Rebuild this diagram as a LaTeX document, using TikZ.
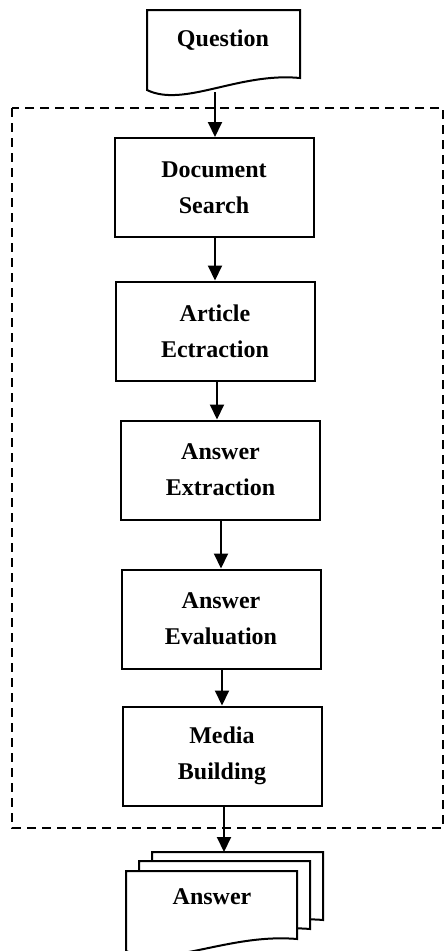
\documentclass[tikz,border=0pt]{standalone}
\usepackage{fontspec}
\setmainfont{Liberation Serif}
\usepackage{tikz}
\usetikzlibrary{arrows.meta,positioning}

% document outline with a wavy bottom, #1 = width
\newcommand{\docoutline}[1]{(0,0) -- (0,80) .. controls (0.24*#1,98) and (0.6*#1,62) .. (#1,68) -- (#1,0) -- cycle}

\begin{document}
\begin{tikzpicture}[
  x=1pt, y=-1pt,
  box/.style={draw, line width=2pt, align=center, minimum width=199pt, minimum height=99pt, font=\fontsize{24}{36}\selectfont\bfseries},
  doctext/.style={font=\fontsize{24}{36}\selectfont\bfseries},
  page/.style={draw, line width=2pt, fill=white},
  frame/.style={line width=1.8pt, dash pattern=on 9pt off 6pt},
  arrow/.style={-{Triangle[length=15pt,width=14pt]}, line width=2pt}
]
\useasboundingbox (0,0) rectangle (445,951);

% outer dashed frame
\draw[frame] (12,108) rectangle (443,828);

% question document
\begin{scope}[shift={(147,10)}]
  \draw[page] \docoutline{153};
\end{scope}
\node[doctext] (question) at (223,40) {Question};
\coordinate (qbottom) at (215,92);

% steps
\node[box] (search) at (214,187.5) {Document\\Search};
\node[box] (article) at (215,331) {Article\\Ectraction};
\node[box] (extract) at (220.5,470) {Answer\\Extraction};
\node[box] (evaluate) at (221,619) {Answer\\Evaluation};
\node[box] (media) at (222,756) {Media\\Building};

% answer documents
\begin{scope}[shift={(152,852)}]
  \draw[page] \docoutline{171};
\end{scope}
\begin{scope}[shift={(139,861)}]
  \draw[page] \docoutline{171};
\end{scope}
\begin{scope}[shift={(126,871)}]
  \draw[page] \docoutline{171};
\end{scope}
\node[doctext] (answer) at (212,897) {Answer};
\coordinate (atop) at (224,852);

% arrows
\draw[arrow] (qbottom) -- (search.north -| qbottom);
\draw[arrow] (article.north |- search.south) -- (article.north);
\draw[arrow] ([xshift=2pt]article.south) -- ([xshift=2pt]article.south |- extract.north);
\draw[arrow] (evaluate.north |- extract.south) -- (evaluate.north);
\draw[arrow] (media.north |- evaluate.south) -- (media.north);
\draw[arrow] (atop |- media.south) -- (atop);
\end{tikzpicture}
\end{document}
